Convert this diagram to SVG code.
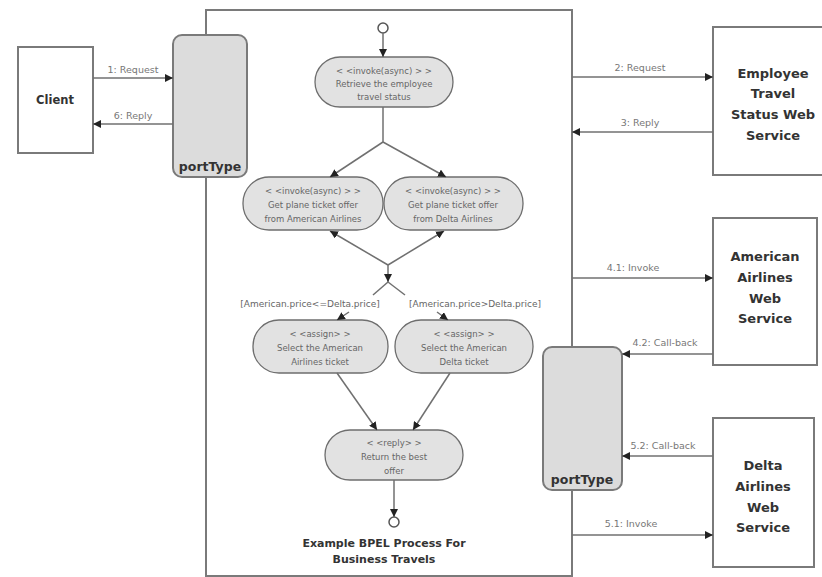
<svg xmlns="http://www.w3.org/2000/svg" width="822" height="577" viewBox="0 0 822 577">
<style>
.box{fill:#fff;stroke:#7a7a7a;stroke-width:2}
.port{fill:#dcdcdc;stroke:#7a7a7a;stroke-width:2}
.act{fill:#e2e2e2;stroke:#6e6e6e;stroke-width:1.3}
.ln{fill:none;stroke:#707070;stroke-width:1.5}
.bold{font-family:"DejaVu Sans",sans-serif;font-weight:bold;fill:#333;text-anchor:middle}
.small{font-family:"DejaVu Sans",sans-serif;font-size:8.5px;fill:#666;text-anchor:middle}
.lbl{font-family:"DejaVu Sans",sans-serif;font-size:9.5px;fill:#777;text-anchor:middle}
.node{fill:#fff;stroke:#555;stroke-width:1.5}
</style>
<defs>
<marker id="ah" viewBox="0 0 10 10" refX="10" refY="5" markerWidth="8" markerHeight="8" orient="auto" markerUnits="userSpaceOnUse">
<path d="M0,0 L10,5 L0,10 z" fill="#222"/>
</marker>
<marker id="ahs" viewBox="0 0 10 10" refX="0" refY="5" markerWidth="8" markerHeight="8" orient="auto" markerUnits="userSpaceOnUse">
<path d="M10,0 L0,5 L10,10 z" fill="#222"/>
</marker>
</defs>
<rect width="822" height="577" fill="#fff"/>

<g id="process">
<rect class="box" x="206" y="10" width="366" height="566"/>
<text class="bold" font-size="11" x="384" y="547">Example BPEL Process For</text>
<text class="bold" font-size="11" x="384" y="563">Business Travels</text>
</g>

<g id="portType-left">
<rect class="port" x="173" y="35" width="74" height="142" rx="9"/>
<text class="bold" font-size="12.5" x="210" y="171">portType</text>
</g>
<g id="portType-right">
<rect class="port" x="543" y="347" width="79" height="143" rx="9"/>
<text class="bold" font-size="12.5" x="582" y="484">portType</text>
</g>

<g id="client">
<rect class="box" x="18" y="47" width="75" height="106"/>
<text class="bold" font-size="11.5" x="55" y="104">Client</text>
</g>
<g id="employee">
<rect class="box" x="713" y="27" width="112" height="148"/>
<text class="bold" font-size="13" x="773" y="78">Employee</text>
<text class="bold" font-size="13" x="773" y="98">Travel</text>
<text class="bold" font-size="13" x="773" y="119">Status Web</text>
<text class="bold" font-size="13" x="773" y="140">Service</text>
</g>
<g id="american">
<rect class="box" x="713" y="218" width="104" height="147"/>
<text class="bold" font-size="13" x="765" y="261">American</text>
<text class="bold" font-size="13" x="765" y="282">Airlines</text>
<text class="bold" font-size="13" x="765" y="303">Web</text>
<text class="bold" font-size="13" x="765" y="323">Service</text>
</g>
<g id="delta">
<rect class="box" x="713" y="418" width="101" height="149"/>
<text class="bold" font-size="13" x="763" y="470">Delta</text>
<text class="bold" font-size="13" x="763" y="491">Airlines</text>
<text class="bold" font-size="13" x="763" y="512">Web</text>
<text class="bold" font-size="13" x="763" y="532">Service</text>
</g>

<g id="start"><circle class="node" cx="383" cy="28" r="5"/></g>
<g id="a1">
<rect class="act" x="315" y="57" width="138" height="50" rx="25"/>
<text class="small" x="384" y="74">&lt; &lt;invoke(async) &gt; &gt;</text>
<text class="small" x="384" y="87">Retrieve the employee</text>
<text class="small" x="384" y="100">travel status</text>
</g>
<g id="a2">
<rect class="act" x="243" y="177" width="140" height="53" rx="26"/>
<text class="small" x="313" y="194">&lt; &lt;invoke(async) &gt; &gt;</text>
<text class="small" x="313" y="208">Get plane ticket offer</text>
<text class="small" x="313" y="222">from American Airlines</text>
</g>
<g id="a3">
<rect class="act" x="384" y="177" width="139" height="53" rx="26"/>
<text class="small" x="453" y="194">&lt; &lt;invoke(async) &gt; &gt;</text>
<text class="small" x="453" y="208">Get plane ticket offer</text>
<text class="small" x="453" y="222">from Delta Airlines</text>
</g>
<g id="a4">
<rect class="act" x="253" y="320" width="135" height="53" rx="26"/>
<text class="small" x="320" y="337">&lt; &lt;assign&gt; &gt;</text>
<text class="small" x="320" y="351">Select the American</text>
<text class="small" x="320" y="365">Airlines ticket</text>
</g>
<g id="a5">
<rect class="act" x="395" y="320" width="138" height="53" rx="26"/>
<text class="small" x="464" y="337">&lt; &lt;assign&gt; &gt;</text>
<text class="small" x="464" y="351">Select the American</text>
<text class="small" x="464" y="365">Delta ticket</text>
</g>
<g id="a6">
<rect class="act" x="325" y="430" width="138" height="50" rx="25"/>
<text class="small" x="394" y="446">&lt; &lt;reply&gt; &gt;</text>
<text class="small" x="394" y="460">Return the best</text>
<text class="small" x="394" y="474">offer</text>
</g>
<g id="end"><circle class="node" cx="394" cy="522" r="5"/></g>

<g id="connectors">
<line class="ln" x1="93" y1="78" x2="173" y2="78" marker-end="url(#ah)"/>
<text class="lbl" x="133" y="73">1: Request</text>
<line class="ln" x1="173" y1="124" x2="93" y2="124" marker-end="url(#ah)"/>
<text class="lbl" x="133" y="119">6: Reply</text>

<line class="ln" x1="572" y1="77" x2="713" y2="77" marker-end="url(#ah)"/>
<text class="lbl" x="640" y="71">2: Request</text>
<line class="ln" x1="713" y1="132" x2="572" y2="132" marker-end="url(#ah)"/>
<text class="lbl" x="640" y="126">3: Reply</text>

<line class="ln" x1="572" y1="278" x2="713" y2="278" marker-end="url(#ah)"/>
<text class="lbl" x="633" y="271">4.1: Invoke</text>
<line class="ln" x1="713" y1="354" x2="622" y2="354" marker-end="url(#ah)"/>
<text class="lbl" x="665" y="346">4.2: Call-back</text>

<line class="ln" x1="713" y1="456" x2="622" y2="456" marker-end="url(#ah)"/>
<text class="lbl" x="663" y="449">5.2: Call-back</text>
<line class="ln" x1="572" y1="535" x2="713" y2="535" marker-end="url(#ah)"/>
<text class="lbl" x="631" y="527">5.1: Invoke</text>

<line class="ln" x1="383" y1="33" x2="383" y2="57" marker-end="url(#ah)"/>
<polyline class="ln" points="383,107 383,142"/>
<line class="ln" x1="383" y1="142" x2="330" y2="177" marker-end="url(#ah)"/>
<line class="ln" x1="383" y1="142" x2="446" y2="177" marker-end="url(#ah)"/>
<line class="ln" x1="330" y1="231" x2="388" y2="265" marker-start="url(#ahs)"/>
<line class="ln" x1="444" y1="231" x2="388" y2="265" marker-start="url(#ahs)"/>
<line class="ln" x1="388" y1="265" x2="388" y2="282" marker-end="url(#ah)"/>
<line class="ln" x1="388" y1="282" x2="373" y2="295"/>
<line class="ln" x1="388" y1="282" x2="405" y2="295"/>
<text class="small" x="310" y="307" style="font-size:9px">[American.price&lt;=Delta.price]</text>
<text class="small" x="475" y="307" style="font-size:9px">[American.price&gt;Delta.price]</text>
<line class="ln" x1="349" y1="312" x2="337" y2="320" marker-end="url(#ah)"/>
<line class="ln" x1="437" y1="312" x2="448" y2="320" marker-end="url(#ah)"/>
<line class="ln" x1="337" y1="373" x2="377" y2="430" marker-end="url(#ah)"/>
<line class="ln" x1="450" y1="373" x2="413" y2="430" marker-end="url(#ah)"/>
<line class="ln" x1="394" y1="480" x2="394" y2="517" marker-end="url(#ah)"/>
</g>
</svg>
